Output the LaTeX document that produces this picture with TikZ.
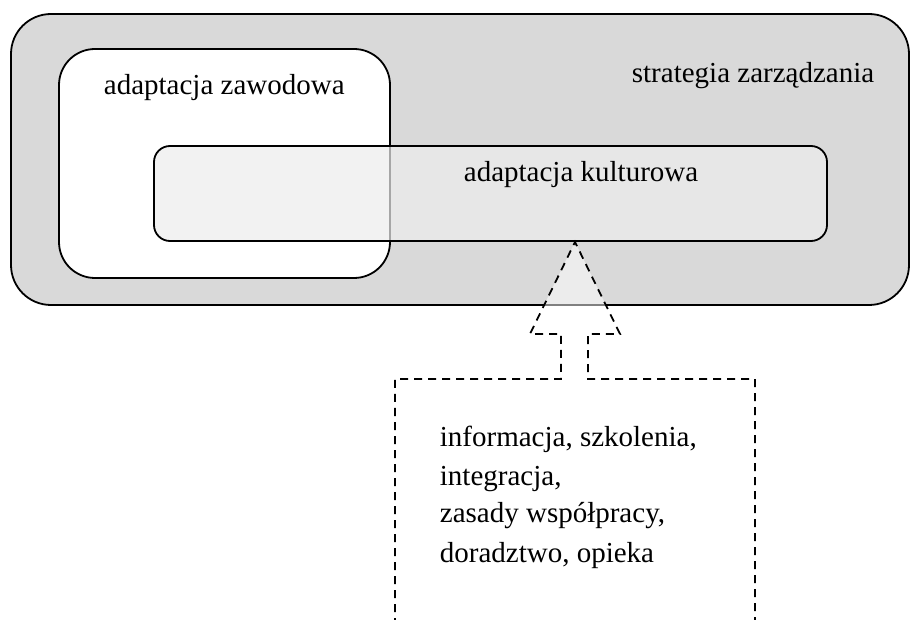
\documentclass[tikz,border=0pt]{standalone}
\usepackage{fontspec}
\setmainfont{Liberation Serif}
\definecolor{tlo}{gray}{0.85}
\definecolor{kultura}{gray}{0.93}

\begin{document}
\begin{tikzpicture}[x=0.5pt,y=-0.5pt,line width=0.9pt,
    ramka/.style={draw=black,rounded corners=#1},
    kreski/.style={draw=black,dash pattern=on 4pt off 3pt},
    napis/.style={anchor=base west,inner sep=0pt,font=\fontsize{14.5}{17}\selectfont}]
        \useasboundingbox (0,0) rectangle (911,620);
        \clip (0,0) rectangle (911,620);
        % strategia zarzadzania
        \draw[ramka=20pt,fill=tlo] (11,14) rectangle (909,305);
        % adaptacja zawodowa
        \draw[ramka=18pt,fill=white] (59,49) rectangle (390,278);
        % adaptacja kulturowa
        \draw[ramka=8pt,fill=kultura,fill opacity=0.7] (154,146) rectangle (827,241);
        % strzalka z ramka
        \coordinate (lewydol) at (395,640);
        \coordinate (lewygora) at (395,379);
        \coordinate (prawygora) at (755,379);
        \coordinate (prawydol) at (755,640);
        \coordinate (grot) at (575,242);
        \draw[kreski,fill=white,fill opacity=0.5] (lewydol) -- (lewygora) -- (561,379) -- (561,334)
            -- (530,334) -- (grot) -- (620,334) -- (588,334) -- (588,379)
            -- (prawygora) -- (prawydol);
        % napisy
        \node[napis] (strategia) at (631,83) {strategia zarządzania};
        \node[napis] (zawodowa) at (103,95) {adaptacja zawodowa};
        \node[napis] (kulturowa) at (463,182) {adaptacja kulturowa};
        \node[napis] (linia1) at (439,446) {informacja, szkolenia,};
        \node[napis] (linia2) at (439,485) {integracja,};
        \node[napis] (linia3) at (439,523) {zasady współpracy,};
        \node[napis] (linia4) at (439,562) {doradztwo, opieka};
    \end{tikzpicture}
\end{document}
